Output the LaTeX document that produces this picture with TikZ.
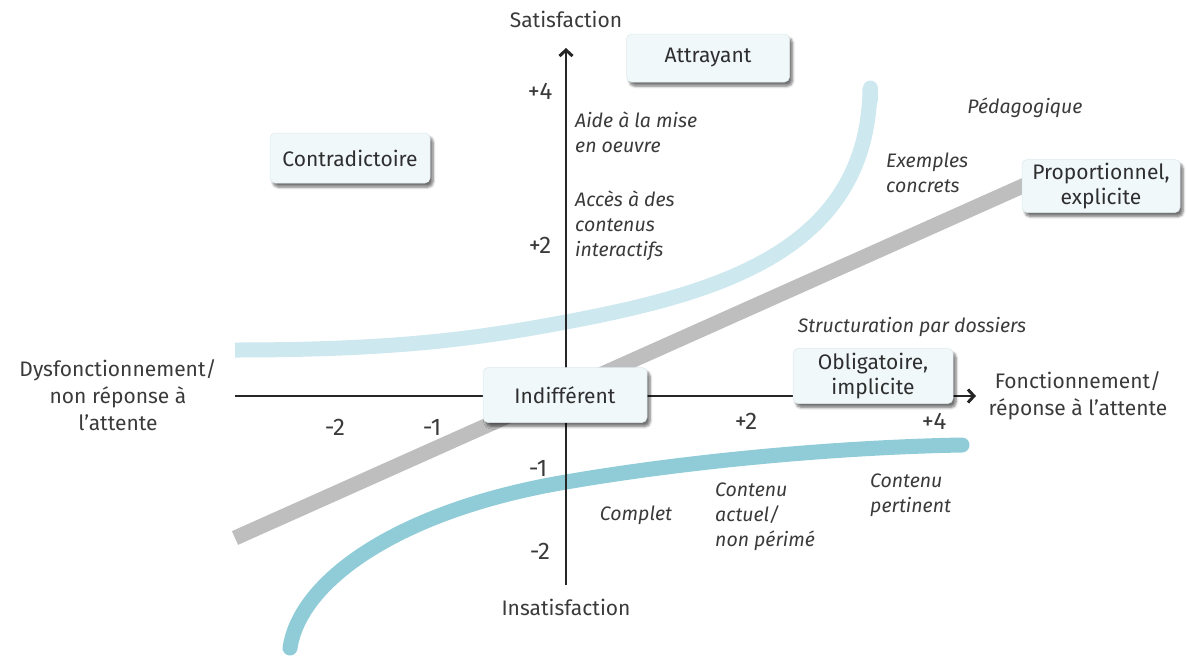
\documentclass[tikz,border=0pt]{standalone}
\usepackage{fontspec}
\setmainfont{Fira Sans}
\usetikzlibrary{arrows.meta,shadows.blur}
\definecolor{ink}{HTML}{3A3A3A}
\definecolor{boxink}{HTML}{2E2E2E}
\definecolor{axisc}{HTML}{262626}
\definecolor{boxfill}{HTML}{F1F8FA}
\definecolor{boxedge}{HTML}{DCE8EC}
\definecolor{paleblue}{HTML}{CDE8EE}
\definecolor{tealblue}{HTML}{8FCCD7}
\definecolor{greyband}{HTML}{BEBEBE}
\begin{document}
\begin{tikzpicture}[x=1pt,y=-1pt,
  category/.style={rounded corners=5pt, fill=boxfill, draw=boxedge, line width=0.5pt,
    align=center, text=boxink, font=\fontsize{21}{25}\selectfont, inner sep=2pt,
    blur shadow={shadow xshift=3pt, shadow yshift=-4pt, shadow blur steps=6,
      shadow blur radius=2.5pt, shadow opacity=55}},
  axislabel/.style={align=center, text=ink, font=\fontsize{21}{27}\selectfont, inner sep=0pt},
  ticklabel/.style={text=ink, font=\fontsize{24}{24}\selectfont, inner sep=0pt},
  attribute/.style={align=left, text=ink, font=\itshape\fontsize{19.5}{25}\selectfont, inner sep=0pt},
  band/.style={line width=15pt},
  axisline/.style={draw=axisc, line width=2.2pt, -{Straight Barb[length=6pt,width=13pt,line width=3pt]}}]
\useasboundingbox (0,0) rectangle (1186,656);

% quality bands
\draw[band, draw=greyband] (235,538) -- (1025,185);
\draw[band, draw=paleblue, line cap=butt] (235,350) .. controls (400,350) and (480,338) .. (566,322)
  .. controls (720,293) and (868,250) .. (870,88);
\draw[band, draw=paleblue, line cap=round] (870,100) -- (870,88);
\draw[band, draw=tealblue, line cap=round] (290,648) .. controls (300,580) and (400,510) .. (566,482)
  .. controls (700,459) and (850,447) .. (962,445);

% axes
\coordinate (ybot) at (566,585);
\coordinate (ytop) at (566,48);
\coordinate (xleft) at (235,396);
\coordinate (xright) at (976,396);
\draw[axisline] (ybot) -- (ytop);
\draw[axisline] (xleft) -- (xright);

\node[axislabel] (sat) at (566,19) {Satisfaction};
\node[axislabel] (insat) at (566,607) {Insatisfaction};
\node[axislabel] (dys) at (118,395) {Dysfonctionnement/\\non réponse à\\l’attente};
\node[axislabel] (fonc) at (1078,396) {Fonctionnement/\\réponse à l’attente};

% tick values
\node[ticklabel] (yp4) at (540,91) {+4};
\node[ticklabel] (yp2) at (540,245) {+2};
\node[ticklabel] (ym1) at (538,468) {-1};
\node[ticklabel] (ym2) at (540,551) {-2};
\node[ticklabel] (xm2) at (335,427) {-2};
\node[ticklabel] (xm1) at (432,427) {-1};
\node[ticklabel] (xp2) at (746,421) {+2};
\node[ticklabel] (xp4) at (934,421) {+4};

% attributes
\node[attribute, anchor=west] (aide) at (575,132) {Aide à la mise\\en oeuvre};
\node[attribute, anchor=west] (acces) at (575,226) {Accès à des\\contenus\\interactifs};
\node[attribute] (peda) at (1025,108) {Pédagogique};
\node[attribute, anchor=west] (exemples) at (886,173) {Exemples\\concrets};
\node[attribute] (struct) at (912,327) {Structuration par dossiers};
\node[attribute] (complet) at (636,515) {Complet};
\node[attribute, anchor=west] (actuel) at (715,517) {Contenu\\actuel/\\non périmé};
\node[attribute, anchor=west] (pertinent) at (870,495) {Contenu\\pertinent};

% categories
\node[category, minimum width=160pt, minimum height=50pt] (contra) at (350,158) {Contradictoire};
\node[category, minimum width=163pt, minimum height=48pt] (attr) at (708,58) {Attrayant};
\node[category, minimum width=160pt, minimum height=55pt] (oblig) at (873,376) {Obligatoire,\\implicite};
\node[category, minimum width=158pt, minimum height=53pt] (prop) at (1101,186) {Proportionnel,\\explicite};
\node[category, minimum width=164pt, minimum height=55pt] (indif) at (565,395) {Indifférent};
\end{tikzpicture}
\end{document}
